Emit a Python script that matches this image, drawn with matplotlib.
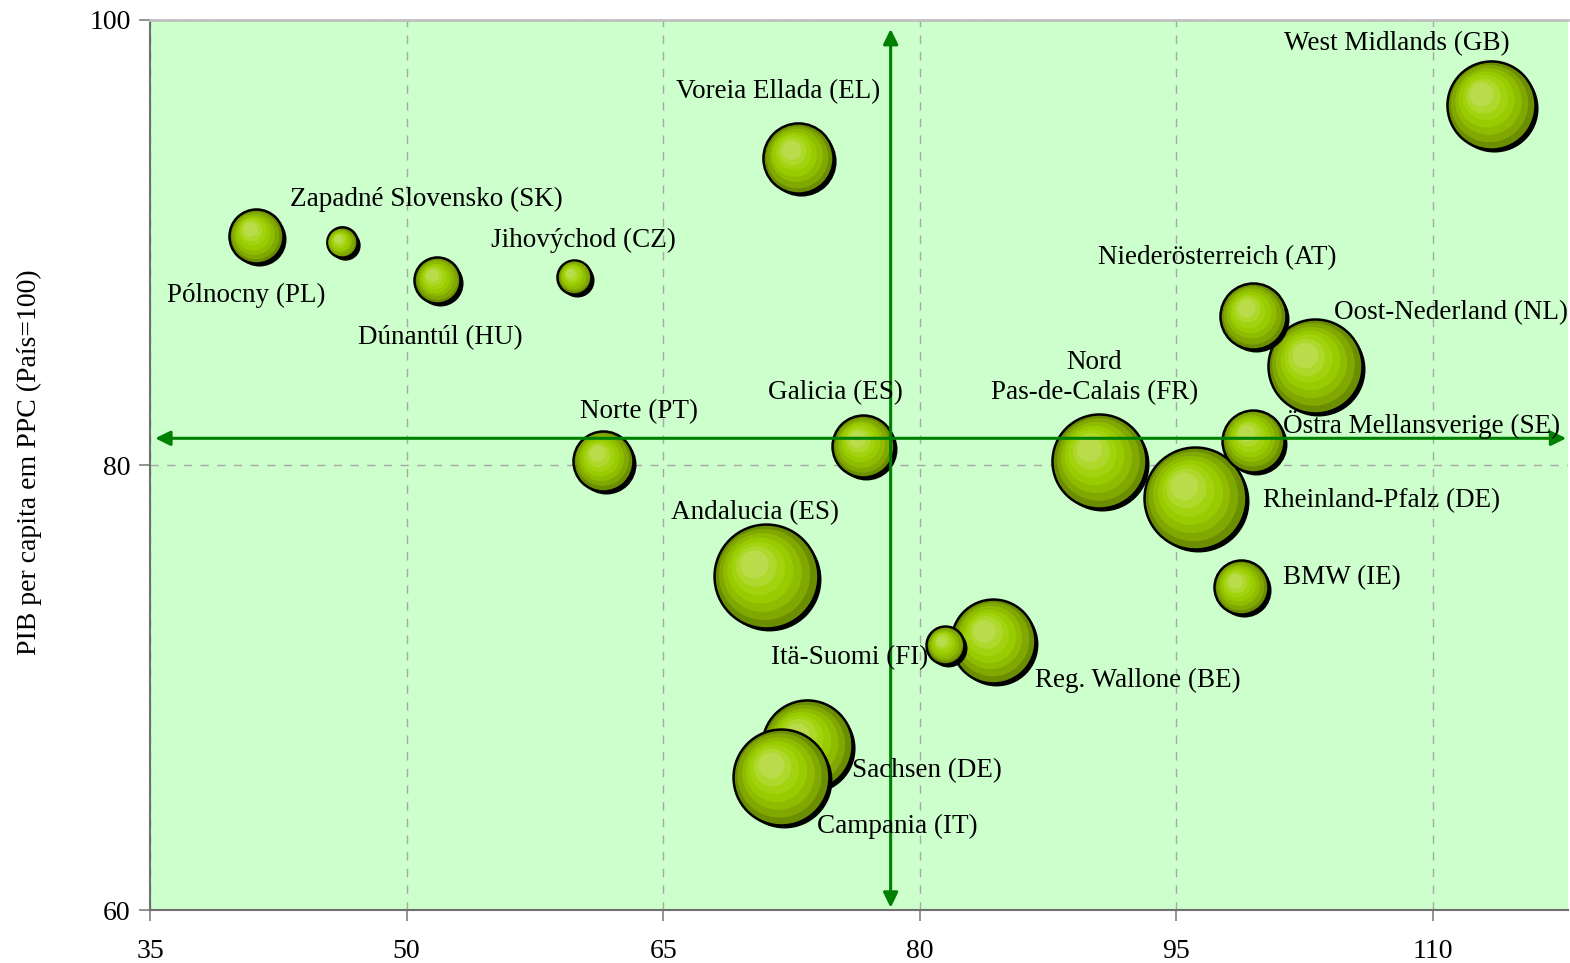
import matplotlib
matplotlib.use("Agg")
import matplotlib.pyplot as plt
import matplotlib.transforms as mtransforms
import numpy as np

# regiões: PIB per capita (x) e PIB per capita em PPC (y), País=100
regions = ['West Midlands (GB)', 'Voreia Ellada (EL)', 'Pólnocny (PL)',
           'Zapadné Slovensko (SK)', 'Dúnantúl (HU)', 'Jihovýchod (CZ)',
           'Oost-Nederland (NL)', 'Niederösterreich (AT)', 'Norte (PT)',
           'Galicia (ES)', 'Nord\nPas-de-Calais (FR)', 'Rheinland-Pfalz (DE)',
           'Östra Mellansverige (SE)', 'BMW (IE)', 'Andalucia (ES)',
           'Reg. Wallone (BE)', 'Itä-Suomi (FI)', 'Sachsen (DE)', 'Campania (IT)']
x_vals = [113.4, 72.9, 41.2, 46.2, 51.8, 59.8, 103.1, 99.5, 61.5, 76.7,
          90.5, 96.1, 99.5, 98.8, 71.0, 84.3, 81.5, 73.4, 71.9]
y_vals = [96.2, 93.8, 90.3, 90.0, 88.3, 88.45, 84.45, 86.7, 80.2, 80.85,
          80.2, 78.5, 81.1, 74.5, 75.0, 72.1, 71.9, 67.4, 66.0]
bubble = [19.4, 12.3, 7.3, 2.3, 5.3, 2.9, 22.1, 10.9, 9.0, 9.6,
          22.1, 26.0, 9.6, 7.3, 27.0, 17.6, 3.6, 20.3, 23.0]

x_ref = 78.3
y_ref = 81.2

x_ticks = [35, 50, 65, 80, 95, 110]
y_ticks = [60, 80, 100]

# label offsets from bubble centre (pixels, +x right, +y down)
label_off = [(-94, -61), (-20, -66), (-10, 60), (85, -43), (3, 57), (9, -37),
             (136, -53), (-36, -58), (36, -49), (-28, -53), (-5, -83),
             (186, 2), (168, -16), (101, -10), (-11, -64), (145, 40),
             (-96, 12), (120, 25), (116, 50)]

DPI = 100
plt.rcParams['font.family'] = ['Liberation Serif', 'DejaVu Serif']

fig = plt.figure(figsize=(15.7, 9.63), dpi=DPI)
ax = fig.add_axes([150 / 1570, 53 / 963, 1418 / 1570, 890 / 963])
ax.set_facecolor('#CCFFCC')
ax.set_xlim(35, 117.9)
ax.set_ylim(60, 100)
ax.set_xticks(x_ticks)
ax.set_yticks(y_ticks)
ax.tick_params(axis='both', labelsize=20, length=8, width=1.2, color='#808080')
ax.tick_params(axis='x', pad=13)
ax.tick_params(axis='y', pad=6)
ax.grid(True, color='#A8A8A8', linestyle=(0, (6, 6)), linewidth=1)
ax.set_axisbelow(True)
ax.spines['right'].set_visible(False)
ax.spines['top'].set_color('#C0C0C0')
ax.spines['top'].set_linewidth(2)
for s in ['left', 'bottom']:
    ax.spines[s].set_color('#707070')
    ax.spines[s].set_linewidth(1.5)

fig.text(29 / 1570, 1 - 462 / 963, 'PIB per capita em PPC (País=100)',
         rotation=90, ha='center', va='center', fontsize=20)

# colour bands of the shaded bubble (edge -> highlight)
bands = ['#6B8E00', '#80A800', '#8FBC00', '#99CC00', '#A3D30F',
         '#AFD82C', '#BADC4A']
n = len(bands)


def draw_bubble(x, y, r, z):
    def sc(dx, dy, rad, **kw):
        tr = mtransforms.offset_copy(ax.transData, fig=fig, x=dx, y=dy, units='dots')
        ax.scatter([x], [y], s=(2 * rad * 72 / DPI) ** 2, transform=tr,
                   zorder=z, **kw)
    # shadow
    sc(3, -3, r, color='black', linewidths=0)
    for k, c in enumerate(bands):
        f = 1 - k / n * 0.85
        dx = -0.30 * r * (1 - f)
        dy = 0.33 * r * (1 - f)
        if k == 0:
            sc(0, 0, r, color=c, edgecolors='black', linewidths=1.8)
        else:
            sc(dx, dy, r * f, color=c, linewidths=0)


for i in range(len(regions)):
    r = np.sqrt(bubble[i]) * 10
    draw_bubble(x_vals[i], y_vals[i], r, 3 + i * 0.01)
    ox, oy = label_off[i]
    ax.annotate(regions[i], (x_vals[i], y_vals[i]), xytext=(ox, -oy),
                textcoords='offset pixels', ha='center', va='center',
                fontsize=19.5, zorder=10, linespacing=1.3)

arrow = dict(arrowstyle='<|-|>,head_length=0.45,head_width=0.22', color='#008000',
             lw=2.2, shrinkA=0, shrinkB=0, mutation_scale=20)
ax.annotate('', xy=(x_ref, 99.6), xytext=(x_ref, 60.1), arrowprops=arrow, zorder=6)
ax.annotate('', xy=(117.8, y_ref), xytext=(35.3, y_ref), arrowprops=arrow, zorder=6)

fig.savefig('out.png', dpi=DPI)
